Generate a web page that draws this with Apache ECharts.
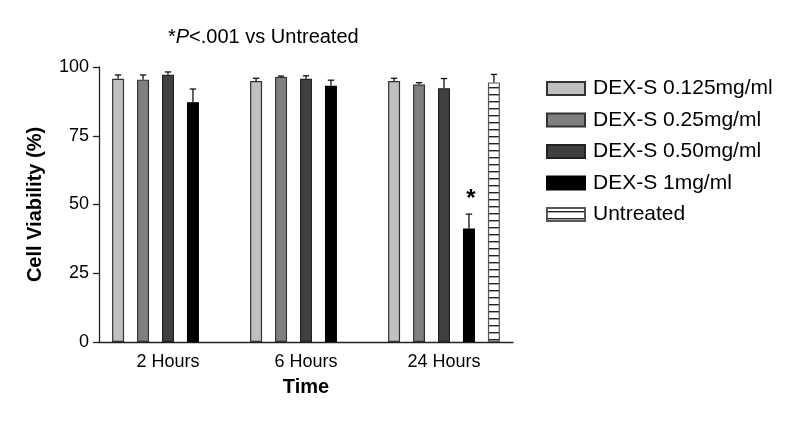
<!DOCTYPE html>
<html>
<head>
<meta charset="utf-8">
<script src="https://cdn.jsdelivr.net/npm/echarts@6/dist/echarts.min.js"></script>
<style>html,body{margin:0;padding:0;background:#fff}#c{width:798px;height:422px}</style>
</head>
<body>
<div id="c"></div>
<script>
const categories = ['2 Hours', '6 Hours', '24 Hours'];
const seriesNames = ['DEX-S 0.125mg/ml', 'DEX-S 0.25mg/ml', 'DEX-S 0.50mg/ml', 'DEX-S 1mg/ml', 'Untreated'];
const dex0125 = [95.7, 94.9, 94.9];
const dex0125Err = [1.4, 1.0, 1.0];
const dex025 = [95.4, 96.4, 93.6];
const dex025Err = [1.7, 0.3, 0.7];
const dex050 = [97.2, 95.7, 92.3];
const dex050Err = [1.0, 1.1, 3.5];
const dex1 = [87.2, 93.2, 41.3];
const dex1Err = [4.8, 2.0, 5.2];
const untreated = [null, null, 94.4];
const untreatedErr = [null, null, 2.9];
const dex1Marks = ['', '', '*'];
const yTicks = [0, 25, 50, 75, 100];

const chart = echarts.init(document.getElementById('c'));

// stripe pattern for Untreated
const pc = document.createElement('canvas');
pc.width = 8; pc.height = 7;
const pctx = pc.getContext('2d');
pctx.fillStyle = '#ffffff'; pctx.fillRect(0, 0, 8, 7);
pctx.fillStyle = '#222222'; pctx.fillRect(0, 3, 8, 1.4);

const fills = ['#c0c0c0', '#808080', '#404040', '#000000', { image: pc, repeat: 'repeat' }];
const borders = ['#333', '#333', '#222', '#000', '#555'];
const values = [dex0125, dex025, dex050, dex1, untreated];
const errs = [dex0125Err, dex025Err, dex050Err, dex1Err, untreatedErr];
const marks = [null, null, null, dex1Marks, null];

const BAR_W = 12, BAR_GAP = 1.08;
const step = BAR_W * (1 + BAR_GAP);

const series = [];
values.forEach((vals, i) => {
  series.push({
    name: seriesNames[i], type: 'bar', data: vals, barWidth: BAR_W, barGap: (BAR_GAP * 100) + '%',
    itemStyle: { color: fills[i], borderColor: borders[i], borderWidth: 1.2 },
    emphasis: { disabled: true }, z: 2
  });
});
values.forEach((vals, i) => {
  const data = [];
  vals.forEach((v, k) => { if (v != null) data.push([k, v, errs[i][k], marks[i] ? marks[i][k] : '']); });
  series.push({
    type: 'custom', name: seriesNames[i] + ' err', z: 3, silent: true,
    data: data, encode: { x: 0, y: 1 },
    renderItem: function (params, api) {
      const x = api.value(0), m = api.value(1), e = api.value(2);
      const mark = data[params.dataIndex][3];
      const base = api.coord([x, m]);
      const top = api.coord([x, m + e]);
      const px = base[0] + (i - 2) * step;
      const st = { stroke: '#111', lineWidth: 1.3 };
      const children = [
        { type: 'line', shape: { x1: px, y1: base[1], x2: px, y2: top[1] }, style: st },
        { type: 'line', shape: { x1: px - 3.2, y1: top[1], x2: px + 3.2, y2: top[1] }, style: st }
      ];
      if (mark) {
        children.push({ type: 'text', style: { text: mark, x: px + 2, y: top[1] - 3, align: 'center', verticalAlign: 'bottom', fontSize: 24, fontWeight: 'bold', fontFamily: 'Liberation Sans, Arial', fill: '#000' } });
      }
      return { type: 'group', children: children };
    }
  });
});

chart.setOption({
  animation: false,
  backgroundColor: '#fff',
  title: {
    left: 163, top: 22,
    text: '*{i|P}<.001 vs Untreated',
    textStyle: { fontSize: 20, fontWeight: 'normal', fontFamily: 'Liberation Sans, Arial', color: '#000',
      rich: { i: { fontStyle: 'italic', fontSize: 20, fontFamily: 'Liberation Sans, Arial', color: '#000' } } }
  },
  legend: {
    orient: 'vertical', left: 541, top: 73, itemWidth: 38, itemHeight: 13, itemGap: 10.5,
    icon: 'rect',
    data: seriesNames,
    textStyle: { fontSize: 21, fontFamily: 'Liberation Sans, Arial', color: '#000', padding: [0, 0, 0, 3] },
    selectedMode: false
  },
  grid: { left: 99, right: 285, top: 67, bottom: 80 },
  xAxis: {
    type: 'category', data: categories,
    name: 'Time', nameLocation: 'middle', nameGap: 35,
    nameTextStyle: { fontSize: 20, fontWeight: 'bold', fontFamily: 'Liberation Sans, Arial', color: '#000' },
    axisLine: { lineStyle: { color: '#222', width: 1.3 } },
    axisTick: { show: false },
    axisLabel: { margin: 11, fontSize: 18, fontFamily: 'Liberation Sans, Arial', color: '#000' }
  },
  yAxis: {
    type: 'value', min: yTicks[0], max: yTicks[yTicks.length - 1], interval: 25,
    name: 'Cell Viability (%)', nameLocation: 'middle', nameGap: 54, nameRotate: 90,
    nameTextStyle: { fontSize: 20, fontWeight: 'bold', fontFamily: 'Liberation Sans, Arial', color: '#000' },
    axisLine: { show: true, lineStyle: { color: '#222', width: 1.3 } },
    axisTick: { show: true, length: 6, lineStyle: { color: '#222', width: 1.3 } },
    splitLine: { show: false },
    axisLabel: { margin: 10, fontSize: 18, fontFamily: 'Liberation Sans, Arial', color: '#000' }
  },
  series: series
});
</script>
</body>
</html>
